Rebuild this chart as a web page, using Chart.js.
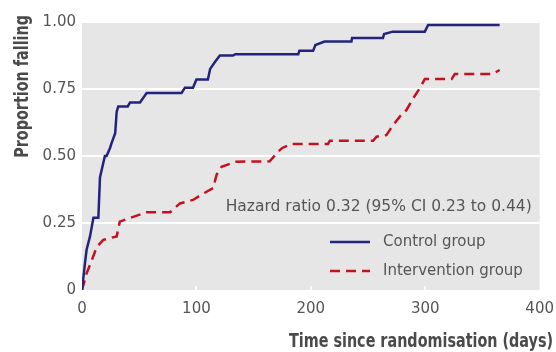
<!DOCTYPE html>
<html>
<head>
<meta charset="utf-8">
<script src="https://cdn.jsdelivr.net/npm/chart.js@4"></script>
<style>
  html, body { margin: 0; padding: 0; background: #fff; }
  #wrap { width: 556px; height: 352px; }
</style>
</head>
<body>
<div id="wrap"><canvas id="kmChart" width="556" height="352"></canvas></div>
<script>
// Kaplan-Meier style curves (days, proportion)
const controlDays = [0, 2.6, 4, 7, 10, 14.3, 15.7, 20, 21.5, 24.5, 26, 29, 30.3, 31.7, 40, 42, 50.7, 56.5, 87, 90, 97, 100, 110, 112, 116, 120.5, 132, 134, 189, 190, 202, 204, 212, 235.5, 236, 263, 264, 271.6, 299.6, 302.5, 365];
const controlProp = [0, 0.10, 0.15, 0.20, 0.27, 0.27, 0.42, 0.50, 0.50, 0.53, 0.55, 0.585, 0.665, 0.685, 0.685, 0.70, 0.70, 0.735, 0.735, 0.755, 0.755, 0.785, 0.785, 0.825, 0.85, 0.875, 0.875, 0.88, 0.88, 0.893, 0.893, 0.914, 0.927, 0.927, 0.94, 0.94, 0.955, 0.964, 0.964, 0.989, 0.989];

const interventionDays = [0, 4, 8.5, 12.8, 18.6, 30.3, 33, 40.5, 56.5, 77, 85.6, 97, 106, 114.6, 117.6, 122, 135, 164, 171.5, 175, 183, 215, 216.6, 254.4, 257.4, 266, 272, 277.7, 283.6, 289.4, 295, 299.6, 323, 325.8, 359, 365];
const interventionProp = [0, 0.062, 0.11, 0.16, 0.187, 0.20, 0.255, 0.267, 0.29, 0.29, 0.323, 0.336, 0.36, 0.38, 0.43, 0.46, 0.479, 0.48, 0.516, 0.53, 0.545, 0.545, 0.557, 0.557, 0.572, 0.578, 0.616, 0.647, 0.672, 0.715, 0.752, 0.787, 0.787, 0.806, 0.806, 0.821];

const seriesLabels = ['Control group', 'Intervention group'];
const yTicks = [0, 0.25, 0.5, 0.75, 1];
const xTicks = [0, 100, 200, 300, 400];
const hazardText = 'Hazard ratio 0.32 (95% CI 0.23 to 0.44)';
const xTitle = 'Time since randomisation (days)';
const yTitle = 'Proportion falling';

const FONT = '"DejaVu Sans", sans-serif';
const TITLE_FONT = '"DejaVu Sans Condensed", "DejaVu Sans", sans-serif';
const textGrey = '#555555';
const blue = '#23237f';
const red = '#c3111e';

function toPoints(xs, ys) {
    return xs.map((x, i) => ({ x: x, y: ys[i] }));
}

// grey panel, inside ticks, annotation, legend and axis titles
const decor = {
    id: 'decor',
    beforeDraw(chart) {
        const a = chart.chartArea, c = chart.ctx;
        c.save();
        c.fillStyle = '#e6e6e6';
        c.fillRect(a.left, a.top, a.right - a.left, a.bottom - a.top);
        c.restore();
    },
    afterDatasetsDraw(chart) {
        const a = chart.chartArea, c = chart.ctx;
        const xs = chart.scales.x, ys = chart.scales.y;
        c.save();
        // little white ticks on the x axis
        c.strokeStyle = '#ffffff';
        c.lineWidth = 2;
        [100, 200, 300].forEach(v => {
            const px = Math.round(xs.getPixelForValue(v));
            c.beginPath();
            c.moveTo(px, a.bottom);
            c.lineTo(px, a.bottom - 4);
            c.stroke();
        });

        // hazard ratio note
        c.fillStyle = textGrey;
        c.font = '15.5px ' + FONT;
        c.textAlign = 'right';
        c.textBaseline = 'middle';
        c.fillText(hazardText, a.right - 8, ys.getPixelForValue(0.31));

        // legend
        c.font = '15px ' + FONT;
        const ds = chart.data.datasets;
        const rows = [242, 271];
        ds.forEach((d, i) => {
            c.strokeStyle = d.borderColor;
            c.lineWidth = d.borderWidth;
            c.setLineDash(d.borderDash || []);
            c.beginPath();
            c.moveTo(330, rows[i]);
            c.lineTo(370, rows[i]);
            c.stroke();
            c.setLineDash([]);
            c.textAlign = 'left';
            c.fillText(d.label, 383, rows[i]);
        });

        // axis titles, bold and squeezed a little
        c.fillStyle = '#4a4a4a';
        c.font = 'bold 19px ' + TITLE_FONT;
        c.textAlign = 'right';
        c.textBaseline = 'alphabetic';
        c.save();
        c.translate(553, 347);
        c.scale(0.84, 1);
        c.fillText(xTitle, 0, 0);
        c.restore();
        c.translate(28, 15);
        c.rotate(-Math.PI / 2);
        c.scale(0.84, 1);
        c.fillText(yTitle, 0, 0);
        c.restore();
    }
};

new Chart(document.getElementById('kmChart'), {
    type: 'line',
    data: {
        datasets: [
            {
                label: seriesLabels[0],
                data: toPoints(controlDays, controlProp),
                borderColor: blue,
                borderWidth: 2.5,
                pointRadius: 0,
                fill: false,
                tension: 0
            },
            {
                label: seriesLabels[1],
                data: toPoints(interventionDays, interventionProp),
                borderColor: red,
                borderWidth: 2.5,
                borderDash: [10, 6],
                pointRadius: 0,
                fill: false,
                tension: 0
            }
        ]
    },
    options: {
        responsive: false,
        animation: false,
        layout: { padding: { left: 0, top: 22, right: 16, bottom: 0 } },
        plugins: {
            legend: { display: false },
            tooltip: { enabled: false }
        },
        scales: {
            x: {
                type: 'linear',
                min: 0,
                max: 400,
                afterBuildTicks(s) { s.ticks = xTicks.map(v => ({ value: v })); },
                afterFit(s) { s.height = 62; },
                grid: { display: false },
                border: { display: false },
                ticks: {
                    color: textGrey,
                    padding: 2,
                    font: { family: FONT, size: 15 }
                }
            },
            y: {
                type: 'linear',
                min: 0,
                max: 1,
                afterBuildTicks(s) { s.ticks = yTicks.map(v => ({ value: v })); },
                afterFit(s) { s.width = 82; },
                grid: {
                    color: ctx => ctx.tick && ctx.tick.value === 0 ? 'rgba(0,0,0,0)' : '#ffffff',
                    lineWidth: 2,
                    drawTicks: false
                },
                border: { display: false },
                ticks: {
                    color: textGrey,
                    padding: 6,
                    font: { family: FONT, size: 15 },
                    callback: v => v === 0 ? '0' : v.toFixed(2)
                }
            }
        }
    },
    plugins: [decor]
});
</script>
</body>
</html>
